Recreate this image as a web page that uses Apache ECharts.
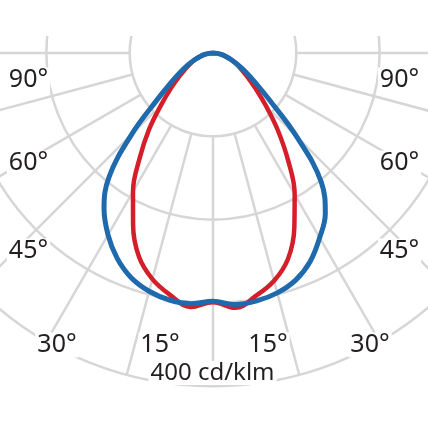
<!DOCTYPE html>
<html>
<head>
<meta charset="utf-8">
<script src="https://cdn.jsdelivr.net/npm/echarts@6/dist/echarts.min.js"></script>
<style>
  html, body { margin: 0; padding: 0; background: #fff; }
  #chart { width: 428px; height: 428px; }
</style>
</head>
<body>
<div id="chart"></div>
<script>
// angle from nadir (0 = straight down), negative = left half
const angles = [-90,-85,-80,-75,-70,-65,-60,-55,-50,-45,-40,-35,-30,-25,-20,-15,-10,-5,
                0,5,10,15,20,25,30,35,40,45,50,55,60,65,70,75,80,85,90];
// cd/klm, blue plane
const blueValues = [0,5,10,16,23,32,44,61,88,138,194,228,252,272,287,296,301,302,
                    298,303,302,298,290,276,256,235,202,142,90,62,45,32,23,16,10,5,0];
// cd/klm, red plane
const redValues = [0,5,10,16,23,30,38,50,66,88,119,153,192,227,260,281,295,306,
                   299,307,296,283,263,231,196,157,121,90,67,51,39,31,23,16,10,5,0];
const ringValues = [100, 200, 300, 400];
const unitLabel = "400 cd/klm";
const sideLabels = ["90°", "60°", "45°"];
const bottomLabels = ["30°", "15°", "15°", "30°"];

const cx = 213, cy = 53, rOuter = 333.3;
const rInner = rOuter * ringValues[0] / ringValues[ringValues.length - 1];
const gridColor = "#d6d6d6";
const textColor = "#231f20";
const font = '25px "Noto Sans", sans-serif';

function pairs(vals){
    return angles.map((a, i) => [vals[i], a]);
}

function label(text, x, y, size){
    return {
        type: "text", x: x, y: y, z: 120,
        style: {
            text: text, fill: textColor,
            font: (size || 25) + 'px "Noto Sans", sans-serif',
            align: "center", verticalAlign: "middle",
            backgroundColor: "#fff", padding: [0, 2]
        }
    };
}

const sideY = [79, 162, 250];
const bottomX = [57, 160, 268, 370];
let graphics = [
    // crop the grid top and bottom
    { type: "rect", z: 100, shape: { x: 0, y: 0, width: 428, height: 36 }, style: { fill: "#fff" } },
    { type: "rect", z: 100, shape: { x: 0, y: 391, width: 428, height: 37 }, style: { fill: "#fff" } }
];
sideLabels.forEach((t, i) => {
    graphics.push(label(t, 28.5, sideY[i] + 1));
    graphics.push(label(t, 399.5, sideY[i] + 1));
});
bottomLabels.forEach((t, i) => graphics.push(label(t, bottomX[i], 345)));
graphics.push(label(unitLabel, 212.5, 373, 24));

function init(){
    const element = document.getElementById("chart");
    const instance = echarts.init(element, null, { renderer: "canvas" });

    let option = {
        backgroundColor: "#fff",
        animation: false,
        polar: [
            // grid only: spokes start at the 100 ring
            { center: [cx, cy], radius: [rInner, rOuter] },
            // data
            { center: [cx, cy], radius: rOuter }
        ],
        angleAxis: [
            {
                polarIndex: 0, type: "value", min: 0, max: 360, interval: 15,
                startAngle: 90,
                axisLine: { show: false }, axisTick: { show: false }, axisLabel: { show: false },
                splitLine: { show: true, lineStyle: { color: gridColor, width: 2.5 } }
            },
            {
                polarIndex: 1, type: "value", min: -180, max: 180,
                startAngle: 90, clockwise: false,
                axisLine: { show: false }, axisTick: { show: false }, axisLabel: { show: false },
                splitLine: { show: false }
            }
        ],
        radiusAxis: [
            {
                polarIndex: 0, type: "value", min: 100, max: 400, interval: 100,
                axisLine: { show: false }, axisTick: { show: false }, axisLabel: { show: false },
                splitLine: { show: true, lineStyle: { color: gridColor, width: 2.5 } }
            },
            {
                polarIndex: 1, type: "value", min: 0, max: 400,
                axisLine: { show: false }, axisTick: { show: false }, axisLabel: { show: false },
                splitLine: { show: false }
            }
        ],
        graphic: graphics,
        series: [
            {
                name: "red", type: "line", coordinateSystem: "polar", polarIndex: 1,
                data: pairs(redValues), smooth: 0.4, showSymbol: false, clip: false,
                lineStyle: { color: "#d41f2a", width: 4.5 }
            },
            {
                name: "blue", type: "line", coordinateSystem: "polar", polarIndex: 1,
                data: pairs(blueValues), smooth: 0.4, showSymbol: false, clip: false,
                lineStyle: { color: "#1f69ad", width: 5 }
            }
        ]
    };

    instance && instance.setOption(option);
}
init();
</script>
</body>
</html>
